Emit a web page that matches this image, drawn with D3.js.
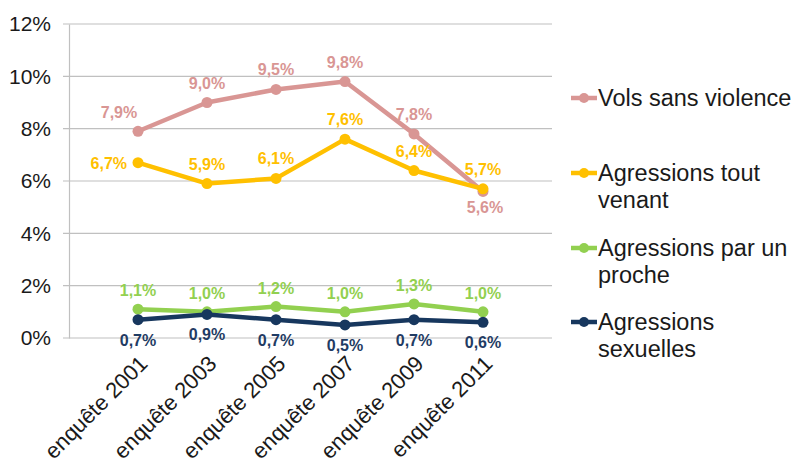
<!DOCTYPE html>
<html><head><meta charset="utf-8">
<script src="https://cdn.jsdelivr.net/npm/d3@7"></script>
<style>body{margin:0;background:#fff}svg{display:block;font-family:"Liberation Sans",Arial,sans-serif}</style>
</head><body><svg id="c" width="796" height="470"></svg>
<script>
const categories = ["enquête 2001","enquête 2003","enquête 2005","enquête 2007","enquête 2009","enquête 2011"];
const seriesNames = ["Vols sans violence","Agressions tout venant","Agressions par un proche","Agressions sexuelles"];
const volsSansViolence = [7.9, 9.0, 9.5, 9.8, 7.8, 5.6];
const agressionsToutVenant = [6.7, 5.9, 6.1, 7.6, 6.4, 5.7];
const agressionsProche = [1.1, 1.0, 1.2, 1.0, 1.3, 1.0];
const agressionsSexuelles = [0.7, 0.9, 0.7, 0.5, 0.7, 0.6];
const yTicks = [0, 2, 4, 6, 8, 10, 12];
const colors = ["#d99694", "#ffc000", "#92d050", "#17375e"];
const legendLines = [["Vols sans violence"],["Agressions tout","venant"],["Agressions par un","proche"],["Agressions","sexuelles"]];

const seriesValues = [volsSansViolence, agressionsToutVenant, agressionsProche, agressionsSexuelles];
const svg = d3.select("#c");
const x = d3.scalePoint().domain(categories).range([69, 552]).padding(1);
const y = d3.scaleLinear().domain([0, 12]).range([338, 24]);
const fmt = v => d3.format(".1f")(v).replace(".", ",") + "%";

// gridlines
svg.append("g").selectAll("line").data(yTicks).join("line")
  .attr("x1", 63).attr("x2", 552).attr("y1", d => y(d)).attr("y2", d => y(d))
  .attr("stroke", "#c0c0c0").attr("stroke-width", 1.2);
// y axis
const ya = svg.append("g").attr("transform", "translate(69,0)")
  .call(d3.axisLeft(y).tickValues(yTicks).tickSize(0).tickPadding(18).tickFormat(d => d + "%"));
ya.select(".domain").attr("stroke", "#c0c0c0").attr("stroke-width", 1.2);
ya.selectAll("text").attr("font-size", 21).attr("fill", "#1a1a1a").attr("font-family", "Liberation Sans, Arial, sans-serif");

// x labels
svg.append("g").selectAll("text").data(categories).join("text")
  .attr("transform", d => `translate(${x(d) + 11},365) rotate(-45)`)
  .attr("text-anchor", "end").attr("font-size", 22).attr("fill", "#1a1a1a").text(d => d);

const line = d3.line().x((d, i) => x(categories[i])).y(d => y(d));
seriesValues.forEach((vals, s) => {
  const g = svg.append("g");
  g.append("path").datum(vals).attr("d", line).attr("fill", "none")
    .attr("stroke", colors[s]).attr("stroke-width", 4.5).attr("stroke-linejoin", "round");
  g.selectAll("circle").data(vals).join("circle")
    .attr("cx", (d, i) => x(categories[i])).attr("cy", d => y(d)).attr("r", 5.5).attr("fill", colors[s]);
});

// data labels
function labelPos(s, i, v) {
  const px = x(categories[i]), py = y(v);
  if (s === 0) {
    if (i === 0) return [px - 19, py - 13, "middle"];
    if (i === 5) return [px + 2, py + 22, "middle"];
    return [px, py - 14, "middle"];
  }
  if (s === 1) {
    if (i === 0) return [px - 11, py + 6, "end"];
    return [px, py - 14, "middle"];
  }
  if (s === 2) return [px, py - 13, "middle"];
  return [px, py + 26, "middle"];
}
seriesValues.forEach((vals, s) => {
  svg.append("g").selectAll("text").data(vals).join("text")
    .each(function(d, i) {
      const [lx, ly, a] = labelPos(s, i, d);
      d3.select(this).attr("x", lx).attr("y", ly).attr("text-anchor", a);
    })
    .attr("font-size", 16).attr("font-weight", "bold").attr("fill", s === 3 ? "#1f3c64" : colors[s])
    .text(d => fmt(d));
});

// legend
const legendY = [98, 173, 248, 322];
seriesNames.forEach((n, s) => {
  const g = svg.append("g").attr("transform", `translate(0,${legendY[s]})`);
  g.append("line").attr("x1", 571).attr("x2", 597).attr("y1", 0).attr("y2", 0)
    .attr("stroke", colors[s]).attr("stroke-width", 4.5);
  g.append("circle").attr("cx", 584).attr("cy", 0).attr("r", 5).attr("fill", colors[s]);
  const t = g.append("text").attr("x", 598).attr("y", 8).attr("font-size", 23.5).attr("fill", "#1a1a1a");
  legendLines[s].forEach((ln, k) => t.append("tspan").attr("x", 598).attr("dy", k === 0 ? 0 : 27).text(ln));
});
</script></body></html>
